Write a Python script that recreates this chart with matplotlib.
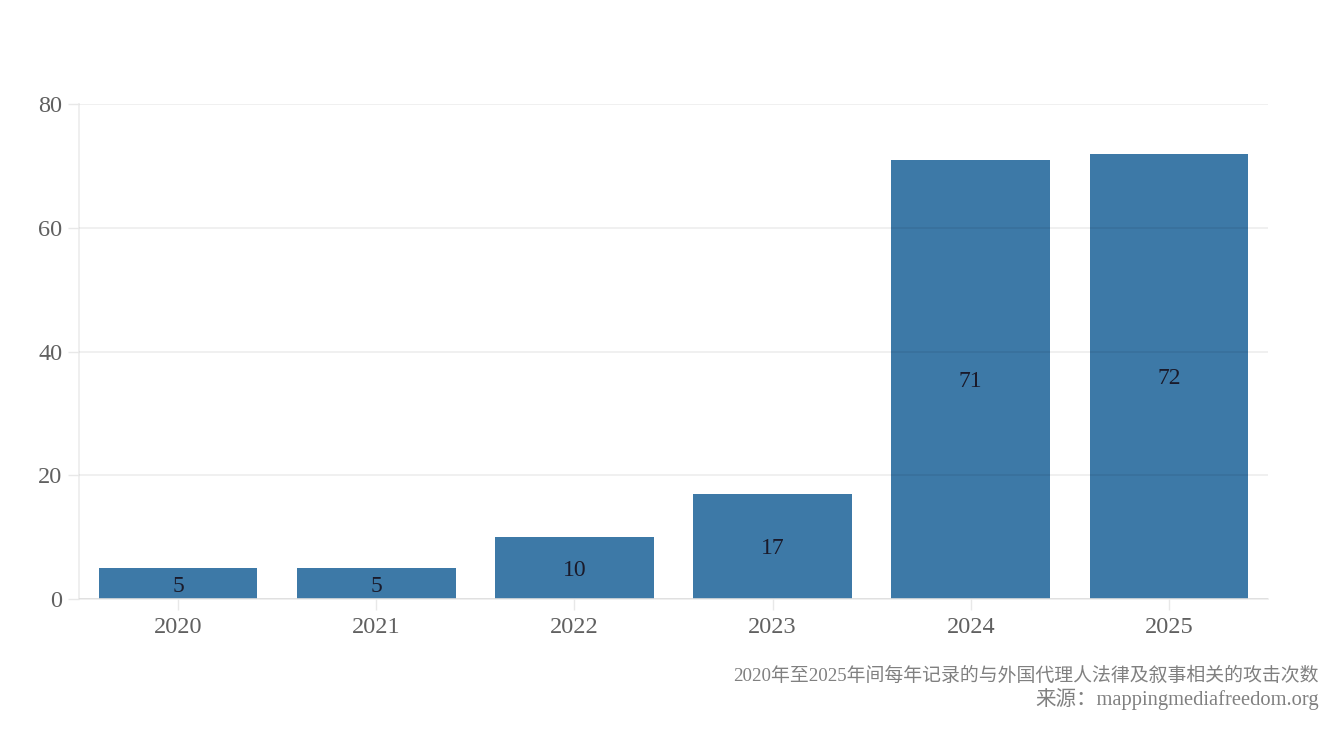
import matplotlib
matplotlib.use("Agg")
import matplotlib.pyplot as plt

years = ["2020", "2021", "2022", "2023", "2024", "2025"]
counts = [5, 5, 10, 17, 71, 72]
yticks = [0, 20, 40, 60, 80]
caption = "2020年至2025年间每年记录的与外国代理人法律及叙事相关的攻击次数"
source = "来源：mappingmediafreedom.org"

plt.rcParams['font.family'] = ['Liberation Serif', 'Noto Sans CJK SC', 'DejaVu Sans']

fig = plt.figure(figsize=(13.2, 7.31), dpi=100)
ax = fig.add_axes([79/1320, 1 - 599/731, (1268-79)/1320, (599-104)/731])

x = list(range(len(years)))
ax.bar(x, counts, width=0.8, color="#3d79a7", zorder=1)
for xi, v in zip(x, counts):
    ax.text(xi, v / 2, str(v), ha="center", va="center_baseline", fontsize=17,
            color="#1a1a2a", zorder=3)

ax.set_xlim(-0.5, 5.5)
ax.set_ylim(0, 80)
ax.set_yticks(yticks)
ax.set_xticks(x)
ax.set_xticklabels(years)
ax.grid(axis="y", color="#000000", alpha=0.07, linewidth=1.2, zorder=2)
ax.set_axisbelow(False)
for s in ["top", "right"]:
    ax.spines[s].set_visible(False)
for s in ["left", "bottom"]:
    ax.spines[s].set_color("#ececec")
    ax.spines[s].set_linewidth(1.2)
ax.tick_params(axis="both", colors="#e8e8e8", labelcolor="#606060",
               labelsize=17.5, length=8, width=1)
ax.tick_params(axis="x", pad=5)
ax.tick_params(axis="y", pad=4)

fig.text(1319/1320, 1 - 676/731, caption, ha="right", va="center",
         fontsize=13.6, color="#808080")
fig.text(1319/1320, 1 - 699/731, source, ha="right", va="center",
         fontsize=14.8, color="#808080")

fig.savefig("out.png", dpi=100)
